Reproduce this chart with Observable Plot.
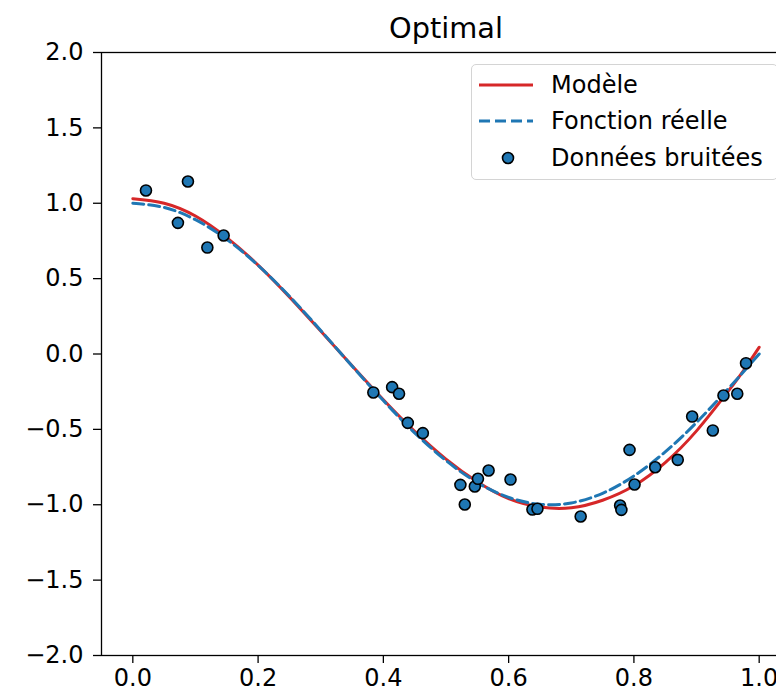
<!DOCTYPE html>
<html>
<head>
<meta charset="utf-8">
<script src="https://cdn.jsdelivr.net/npm/d3@7"></script>
<script src="https://cdn.jsdelivr.net/npm/@observablehq/plot@0.6"></script>
<style>
  html, body { margin: 0; padding: 0; background: #fff; overflow: hidden; width: 776px; height: 692px; }
  #wrap { position: relative; width: 776px; height: 692px; overflow: hidden; font-family: "DejaVu Sans", sans-serif; }
  #wrap > svg { max-width: none !important; display: block; }
  #legend { position: absolute; left: 471px; top: 64px; width: 307px; height: 116px; box-sizing: border-box;
            border: 1px solid #d4d4d4; border-radius: 5px; background: rgba(255,255,255,0.8); }
  .row { position: absolute; left: 0; height: 36px; width: 300px; }
  .row svg { position: absolute; left: 6px; top: 0; }
  .row span { position: absolute; left: 79px; top: 0; line-height: 36px; font-size: 24px; color: #000; white-space: nowrap; }
</style>
</head>
<body>
<div id="wrap"></div>
<script>
// Curves
const gridX   = [0, 0.05, 0.1, 0.15, 0.2, 0.25, 0.3, 0.35, 0.4, 0.45, 0.5, 0.55, 0.6, 0.65, 0.7, 0.75, 0.8, 0.85, 0.9, 0.95, 0.975, 1.0];
const modelY  = [1.03, 1.0, 0.915, 0.772, 0.59, 0.379, 0.152, -0.078, -0.303, -0.513, -0.697, -0.848, -0.96, -1.015, -1.02, -0.97, -0.874, -0.72, -0.51, -0.25, -0.11, 0.045];
const trueY   = [1.0, 0.972, 0.891, 0.760, 0.588, 0.383, 0.156, -0.079, -0.309, -0.523, -0.707, -0.853, -0.951, -0.997, -0.988, -0.924, -0.809, -0.649, -0.454, -0.233, -0.118, 0.0];
// Noisy samples
const sampleX = [0.021, 0.088, 0.072, 0.119, 0.145, 0.384, 0.414, 0.425, 0.439, 0.463, 0.523, 0.530, 0.546, 0.551, 0.568, 0.603, 0.638, 0.646,
                 0.715, 0.778, 0.780, 0.793, 0.801, 0.834, 0.870, 0.893, 0.926, 0.943, 0.965, 0.979];
const sampleY = [1.085, 1.144, 0.870, 0.706, 0.786, -0.255, -0.220, -0.264, -0.457, -0.525, -0.868, -0.998, -0.879, -0.828, -0.773, -0.833, -1.032, -1.027,
                 -1.078, -1.005, -1.034, -0.636, -0.866, -0.751, -0.702, -0.415, -0.507, -0.275, -0.264, -0.061];
const xTicks = [0, 0.2, 0.4, 0.6, 0.8, 1.0];
const yTicks = [-2, -1.5, -1, -0.5, 0, 0.5, 1, 1.5, 2];
const title = "Optimal";
const labels = ["Modèle", "Fonction réelle", "Données bruitées"];

const RED = "#d62728", BLUE = "#1f77b4";

const curve = gridX.map((x, i) => ({x, model: modelY[i], truth: trueY[i]}));
const samples = sampleX.map((x, i) => ({x, y: sampleY[i]}));

const chart = Plot.plot({
  width: 790,
  height: 692,
  marginLeft: 101,
  marginRight: 0,
  marginTop: 52,
  marginBottom: 37,
  style: {fontFamily: "DejaVu Sans, sans-serif", fontSize: "24px", color: "#000", background: "#fff", overflow: "visible", maxWidth: "none"},
  x: {domain: [-0.05, 1.05]},
  y: {domain: [-2, 2]},
  marks: [
    Plot.line(curve, {x: "x", y: "model", stroke: RED, strokeWidth: 3, curve: "natural"}),
    Plot.line(curve, {x: "x", y: "truth", stroke: BLUE, strokeWidth: 3, strokeDasharray: "11,5", curve: "natural"}),
    Plot.dot(samples, {x: "x", y: "y", r: 5.5, fill: BLUE, stroke: "#000", strokeWidth: 1.6}),
    Plot.frame({stroke: "#000", strokeWidth: 1.3}),
    Plot.axisX({ticks: xTicks, tickFormat: ".1f", tickSize: 8, tickPadding: 5, label: null, strokeWidth: 1.3}),
    Plot.axisY({ticks: yTicks, tickFormat: ".1f", tickSize: 8, tickPadding: 10, label: null, strokeWidth: 1.3}),
    Plot.text([title], {frameAnchor: "top", dy: -15, lineAnchor: "bottom", fontSize: 28.8, fill: "#000"})
  ]
});
chart.style.maxWidth = "none";
chart.style.width = "790px";
chart.style.height = "692px";
document.getElementById("wrap").appendChild(chart);

// Legend (HTML overlay)
const legend = document.createElement("div");
legend.id = "legend";
const rowTops = [1.5, 38, 74.5];
const swatches = [
  `<svg width="56" height="36"><line x1="1" x2="55" y1="18" y2="18" stroke="${RED}" stroke-width="3"/></svg>`,
  `<svg width="56" height="36"><line x1="1" x2="55" y1="18" y2="18" stroke="${BLUE}" stroke-width="3" stroke-dasharray="11,5"/></svg>`,
  `<svg width="56" height="36"><circle cx="30" cy="18" r="5.5" fill="${BLUE}" stroke="#000" stroke-width="1.6"/></svg>`
];
labels.forEach((lab, i) => {
  const row = document.createElement("div");
  row.className = "row";
  row.style.top = rowTops[i] + "px";
  row.innerHTML = swatches[i] + `<span>${lab}</span>`;
  legend.appendChild(row);
});
document.getElementById("wrap").appendChild(legend);
</script>
</body>
</html>
